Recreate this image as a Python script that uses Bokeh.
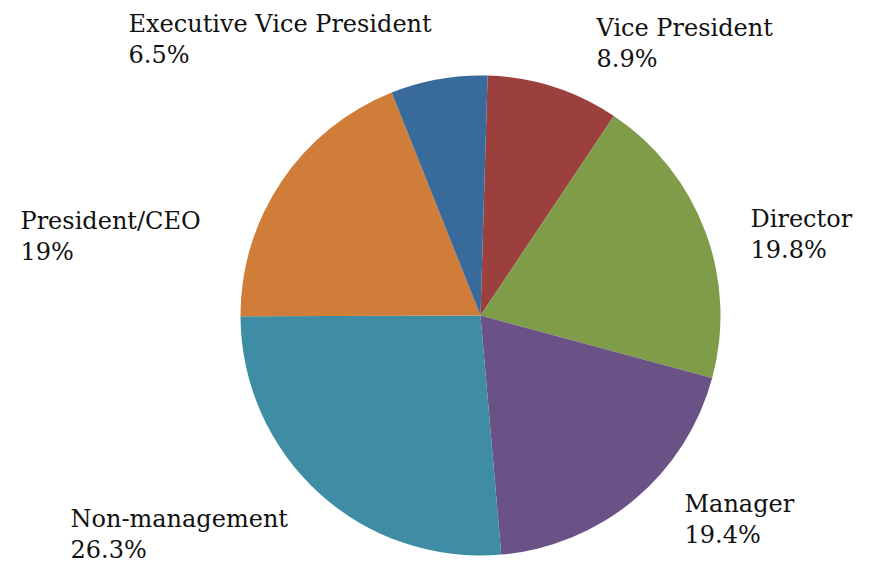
import math
from bokeh.plotting import figure
from bokeh.models import ColumnDataSource, Range1d
from bokeh.core.properties import value
from bokeh.embed import file_html
from bokeh.resources import INLINE

# ---- data ----
categories = ["Vice President", "Director", "Manager", "Non-management",
              "President/CEO", "Executive Vice President"]
percents = [8.9, 19.8, 19.4, 26.3, 19.0, 6.5]
pct_labels = ["8.9%", "19.8%", "19.4%", "26.3%", "19%", "6.5%"]
colors = ["#9C403E", "#7F9C49", "#6A5287", "#3E8DA4", "#CF7D39", "#386A9C"]

# ---- layout ----
W, H = 872, 566
CX, CY, R = 480, -315, 240
START_OFFSET = math.radians(1.7)
# label anchors (left x, baseline y of first line) in page pixels
label_pos = [(596, 36), (750, 227), (684, 512), (70, 527), (20, 229), (128, 32)]
BASE_SHIFT = 9
LINE_GAP = 31
FONT = "DejaVu Serif"
FSIZE = "24px"

total = sum(percents)
starts, ends = [], []
cum = 0.0
for v in percents:
    a0 = math.pi / 2 - START_OFFSET - 2 * math.pi * cum / total
    cum += v
    a1 = math.pi / 2 - START_OFFSET - 2 * math.pi * cum / total
    starts.append(a0)
    ends.append(a1)

src = ColumnDataSource(dict(start=starts, end=ends, color=colors, name=categories))

p = figure(width=W, height=H, output_backend="svg", toolbar_location=None,
           x_range=Range1d(0, W), y_range=Range1d(-H, 0),
           min_border=0)
p.axis.visible = False
p.grid.visible = False
p.outline_line_color = None
p.background_fill_color = "white"

p.wedge(x=CX, y=CY, radius=R, start_angle="start", end_angle="end",
        direction="clock", fill_color="color", line_color=None, source=src)

lsrc = ColumnDataSource(dict(
    x=[lp[0] for lp in label_pos],
    y1=[-(lp[1] - BASE_SHIFT) for lp in label_pos],
    y2=[-(lp[1] - BASE_SHIFT + LINE_GAP) for lp in label_pos],
    name=categories, pct=pct_labels))

p.text(x="x", y="y1", text="name", source=lsrc, text_font=value(FONT),
       text_font_size=value(FSIZE), text_color="#111111",
       text_align="left", text_baseline="alphabetic")
p.text(x="x", y="y2", text="pct", source=lsrc, text_font=value(FONT),
       text_font_size=value(FSIZE), text_color="#111111",
       text_align="left", text_baseline="alphabetic")

open("out.html", "w").write(file_html(p, INLINE))
